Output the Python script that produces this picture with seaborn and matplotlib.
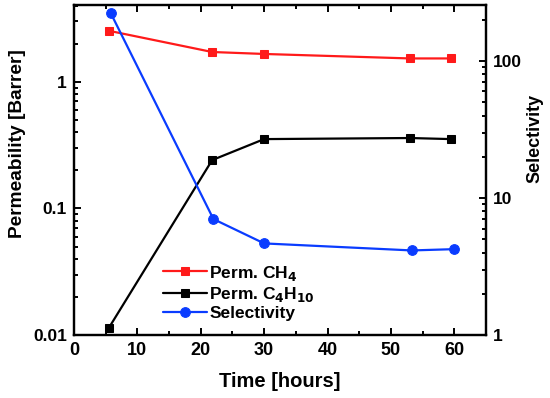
import matplotlib
matplotlib.use("Agg")
import matplotlib.pyplot as plt
import seaborn as sns
import numpy as np
from matplotlib.ticker import FixedLocator, FuncFormatter, LogLocator, NullFormatter, MultipleLocator

time_ch4 = [5.5, 21.8, 30.0, 53.0, 59.5]
perm_ch4 = [2.53, 1.72, 1.66, 1.53, 1.53]
time_c4h10 = [5.5, 21.8, 30.0, 53.0, 59.5]
perm_c4h10 = [0.0114, 0.241, 0.353, 0.36, 0.353]
time_sel = [5.8, 22.0, 30.0, 53.3, 59.9]
selectivity = [224, 7.03, 4.67, 4.15, 4.24]

sns.set_theme(style="ticks")
plt.rcParams['font.family'] = ['Liberation Sans', 'DejaVu Sans']
plt.rcParams['font.weight'] = 'bold'
plt.rcParams['axes.labelweight'] = 'bold'
plt.rcParams['mathtext.default'] = 'bf'
for k in ('text.color', 'axes.labelcolor', 'xtick.color', 'ytick.color', 'axes.edgecolor'):
    plt.rcParams[k] = 'black'

fig = plt.figure(figsize=(5.5, 3.98), dpi=100)
ax = fig.add_axes([0.1345, 0.158, 0.7491, 0.829])
ax2 = ax.twinx()

red = '#ff1a1a'
blue = '#0a3cff'
lw = 1.6
sns.lineplot(x=time_ch4, y=perm_ch4, ax=ax, color=red, marker='s', markersize=6,
             markeredgecolor=red, linewidth=lw, label='Perm. CH$_4$', legend=False)
sns.lineplot(x=time_c4h10, y=perm_c4h10, ax=ax, color='black', marker='s', markersize=6,
             markeredgecolor='black', linewidth=lw, label='Perm. C$_4$H$_{10}$', legend=False)
sns.lineplot(x=time_sel, y=selectivity, ax=ax2, color=blue, marker='o', markersize=7,
             markeredgecolor=blue, linewidth=lw, label='Selectivity', legend=False)

ax.set_yscale('log')
ax2.set_yscale('log')
ax.set_xlim(0, 65)
ax.set_ylim(0.01, 4.03)
ax2.set_ylim(1, 256)

ax.xaxis.set_major_locator(MultipleLocator(10))
ax.xaxis.set_minor_locator(MultipleLocator(5))
ax.yaxis.set_major_locator(FixedLocator([0.01, 0.1, 1]))
ax.yaxis.set_major_formatter(FuncFormatter(lambda v, p: {0.01: '0.01', 0.1: '0.1', 1: '1'}.get(round(v, 3), '')))
ax.yaxis.set_minor_locator(LogLocator(base=10, subs=np.arange(2, 10)))
ax.yaxis.set_minor_formatter(NullFormatter())
ax2.yaxis.set_major_locator(FixedLocator([1, 10, 100]))
ax2.yaxis.set_major_formatter(FuncFormatter(lambda v, p: '%d' % round(v)))
ax2.yaxis.set_minor_locator(LogLocator(base=10, subs=np.arange(2, 10)))
ax2.yaxis.set_minor_formatter(NullFormatter())

for a in (ax, ax2):
    for s in a.spines.values():
        s.set_linewidth(1.6)
        s.set_color('black')
ax.tick_params(axis='x', which='both', direction='in', top=True, bottom=True, width=1.4)
ax.tick_params(axis='x', which='major', length=5, labelsize=13, pad=5)
ax.tick_params(axis='x', which='minor', length=3)
ax.tick_params(axis='y', which='both', direction='in', left=True, right=False, width=1.4)
ax.tick_params(axis='y', which='major', length=5, labelsize=12.5, pad=5)
ax.tick_params(axis='y', which='minor', length=3)
ax2.tick_params(axis='y', which='both', direction='in', right=True, left=False, width=1.4)
ax2.tick_params(axis='y', which='major', length=5, labelsize=12.5, pad=5)
ax2.tick_params(axis='y', which='minor', length=3)
for lab in ax.get_xticklabels() + ax.get_yticklabels() + ax2.get_yticklabels():
    lab.set_fontweight('bold')

ax.set_xlabel('Time [hours]', fontsize=14.5, fontweight='bold', labelpad=9)
ax.set_ylabel('Permeability [Barrer]', fontsize=13.8, fontweight='bold')
ax2.set_ylabel('Selectivity', fontsize=13, fontweight='bold')
ax.yaxis.set_label_coords(-0.117, 0.582)
ax2.yaxis.set_label_coords(1.0985, 0.597)

h1, l1 = ax.get_legend_handles_labels()
h2, l2 = ax2.get_legend_handles_labels()
leg = ax2.legend(h1 + h2, l1 + l2, loc='center left', bbox_to_anchor=(0.2, 0.13),
                 frameon=False, fontsize=12.5, handlelength=2.5, handletextpad=0.15,
                 labelspacing=0.12, borderaxespad=0)
for t in leg.get_texts():
    t.set_fontweight('bold')

fig.savefig('out.png', dpi=100)
